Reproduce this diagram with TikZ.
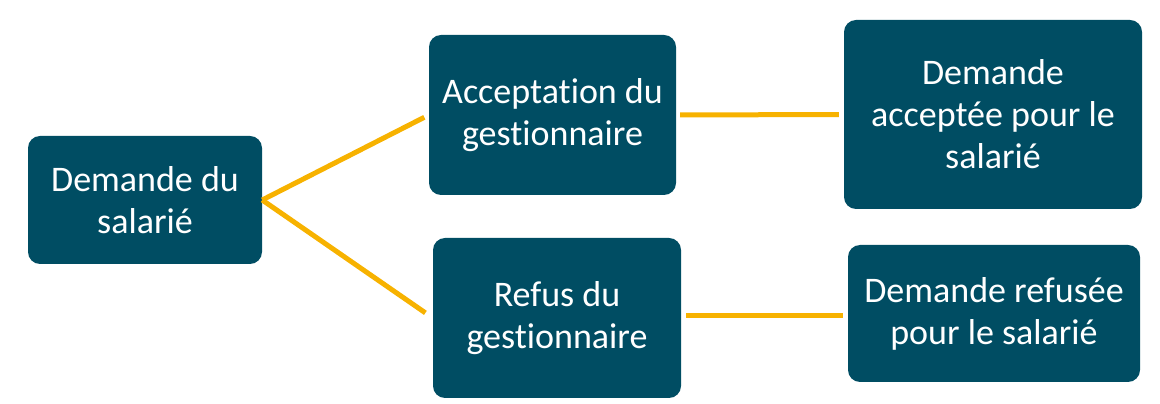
\documentclass[tikz,border=0pt]{standalone}
\usepackage{fontspec}
\setmainfont{Carlito}[Ligatures={NoCommon,NoRare,NoDiscretionary}]
\definecolor{boxblue}{RGB}{0,77,99}
\definecolor{linkorange}{RGB}{247,178,0}
\begin{document}
\begin{tikzpicture}[x=1pt,y=1pt,
  box/.style={fill=boxblue, rounded corners=12pt, text=white, align=center,
    font=\fontsize{36}{42}\selectfont, inner sep=0pt},
  link/.style={draw=linkorange, line width=5pt}]
\useasboundingbox (0,0) rectangle (1160,404);
\node[box, minimum width=234pt, minimum height=128pt] (A) at (145,204) {Demande du\\salarié};
\node[box, minimum width=247pt, minimum height=160pt] (B) at (552.5,289) {Acceptation du\\gestionnaire};
\node[box, minimum width=298pt, minimum height=189pt] (C) at (993,289.5) {Demande\\acceptée pour le\\salarié};
\node[box, minimum width=248pt, minimum height=160pt] (D) at (557,86) {Refus du\\gestionnaire};
\node[box, minimum width=292pt, minimum height=137pt] (E) at (994,90.5) {Demande refusée\\pour le salarié};
\draw[link, shorten >=5pt] (A.east) -- (B.west);
\draw[link, shorten >=9pt] (A.east) -- (D.west);
\draw[link, shorten <=4pt, shorten >=5pt] (B.east) -- (C.west);
\draw[link, shorten <=5pt, shorten >=5pt] ([yshift=2pt]D.east) -- ([yshift=-2.5pt]E.west);
\end{tikzpicture}
\end{document}
